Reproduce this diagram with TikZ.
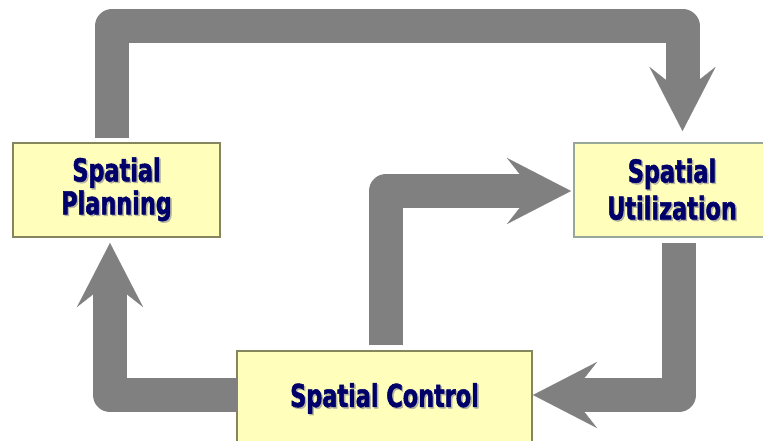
\documentclass[tikz,border=0pt]{standalone}
\usepackage{fontspec}
\usetikzlibrary{arrows.meta}
\newfontfamily\lblfont{DejaVu Sans}[FakeStretch=0.71,FakeBold=1.6]
\definecolor{flowgray}{HTML}{808080}
\definecolor{boxfill}{HTML}{FFFFBB}
\definecolor{olivebd}{HTML}{85855E}
\definecolor{sagebd}{HTML}{98A898}
\definecolor{inkblue}{HTML}{00006B}
\definecolor{shadowgray}{HTML}{B4B4A0}
% text with a soft drop shadow below and to the right
\newcommand\shtext[1]{\makebox[0pt][l]{\kern1.5pt\raisebox{-1.5pt}{\textcolor{shadowgray}{#1}}}#1}
\begin{document}
\begin{tikzpicture}[x=1pt,y=-1pt,
  box/.style={draw=olivebd, line width=2pt, fill=boxfill, inner sep=0pt, outer sep=0pt},
  lbltext/.style={font=\lblfont\bfseries\fontsize{31.5}{33}\selectfont, text=inkblue, align=center},
  flow/.style={draw=flowgray, line width=34pt, line join=round, line cap=butt,
    -{Stealth[length=64pt,width=66pt,inset=26pt,line width=0.1pt]}}
]
\path[use as bounding box] (0,0) rectangle (763,441);
\clip (0,0) rectangle (763,441);

% the three stages
\node[box, lbltext, minimum width=207pt, minimum height=94pt] (pl) at (116.5,190)
  {\shtext{Spatial}\\\shtext{Planning}};
\node[box, draw=sagebd, lbltext, font=\lblfont\bfseries\fontsize{31.5}{37}\selectfont,
  minimum width=196pt, minimum height=94pt] (ut) at (672,190)
  {\shtext{Spatial}\\\shtext{Utilization}};
\node[box, lbltext, minimum width=295pt, minimum height=96pt] (ct) at (384.5,399)
  {\shtext{Spatial Control}};

% the cycle of flows between stages
\draw[flow] ([xshift=-4.5pt,yshift=5pt]pl.north)
  |- ([xshift=10.5pt,yshift=117pt]ut.north) -- ([xshift=10.5pt,yshift=12pt]ut.north);
\draw[flow] ([xshift=1.5pt,yshift=6pt]ct.north) |- ([xshift=-3pt,yshift=-1pt]ut.west);
\draw[flow] ([yshift=4pt]ct.west) -| ([xshift=-6.5pt,yshift=-6pt]pl.south);
\draw[flow] ([xshift=7pt,yshift=-6pt]ut.south) |- ([xshift=1pt,yshift=4pt]ct.east);
\end{tikzpicture}
\end{document}
